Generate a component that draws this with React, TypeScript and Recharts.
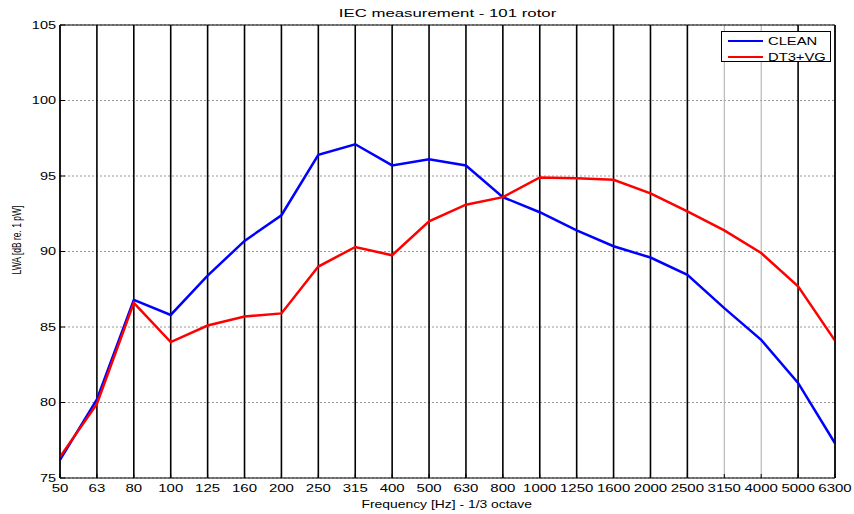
import { CartesianGrid, Line, LineChart, ReferenceLine, XAxis, YAxis } from "recharts";

const frequencies = ["50", "63", "80", "100", "125", "160", "200", "250", "315", "400", "500", "630", "800", "1000", "1250", "1600", "2000", "2500", "3150", "4000", "5000", "6300"];
const clean = [76.2, 80.2, 86.8, 85.8, 88.4, 90.7, 92.4, 96.4, 97.1, 95.7, 96.1, 95.7, 93.6, 92.6, 91.4, 90.35, 89.6, 88.45, 86.25, 84.15, 81.3, 77.3];
const dt3vg = [76.4, 79.9, 86.6, 84.0, 85.1, 85.7, 85.9, 89.0, 90.3, 89.75, 92.0, 93.1, 93.6, 94.9, 94.85, 94.75, 93.85, 92.65, 91.4, 89.9, 87.7, 84.1];
const yTicks = [75, 80, 85, 90, 95, 100, 105];
const lightGrid = ["3150", "4000"];
const series = [
  { key: "clean", name: "CLEAN", color: "#0000ff" },
  { key: "dt3vg", name: "DT3+VG", color: "#ff0000" }
];

const data = frequencies.map((f, i) => ({ freq: f, clean: clean[i], dt3vg: dt3vg[i] }));

const font = "'Liberation Sans', Arial, sans-serif";

// the source figure was stretched sideways, so text is widened with scaleX
function XTick({ x, y, payload }: any) {
  return (
    <g>
      <line x1={x} x2={x} y1={y} y2={y - 4} stroke="#000" />
      <text
        transform={`translate(${x},${y + 14}) scale(1.5,1)`}
        textAnchor="middle"
        fontSize={10}
        fontFamily={font}
        fill="#000"
      >
        {payload.value}
      </text>
    </g>
  );
}

function YTick({ x, y, payload }: any) {
  return (
    <g>
      <line x1={x} x2={x + 5} y1={y} y2={y} stroke="#000" />
      <text
        transform={`translate(${x - 4},${y + 3.5}) scale(1.45,1)`}
        textAnchor="end"
        fontSize={10}
        fontFamily={font}
        fill="#000"
      >
        {payload.value}
      </text>
    </g>
  );
}

function RightTick({ x, y }: any) {
  return <line x1={x - 5} x2={x} y1={y} y2={y} stroke="#000" />;
}

function LegendBox() {
  return (
    <div
      style={{
        position: "absolute",
        left: 721,
        top: 31,
        width: 110,
        height: 31,
        border: "1px solid #000",
        background: "#fff",
        boxSizing: "border-box",
        fontFamily: font,
        fontSize: 10.7
      }}
    >
      {series.map((s, i) => (
        <div key={s.key} style={{ position: "absolute", left: 6, top: 2 + i * 15.5, height: 14, display: "flex", alignItems: "center" }}>
          <span style={{ display: "inline-block", width: 35, height: 2, background: s.color }} />
          <span style={{ display: "inline-block", marginLeft: 5, transform: "scaleX(1.38)", transformOrigin: "left center" }}>{s.name}</span>
        </div>
      ))}
    </div>
  );
}

export default function App() {
  return (
    <div style={{ position: "absolute", left: 0, top: 0, width: 854, height: 514, background: "#fff" }}>
      <LineChart width={854} height={514} data={data} margin={{ top: 25, right: 0, bottom: 0, left: 0 }}>
        <CartesianGrid vertical={false} stroke="#999" strokeDasharray="2 2" />
        {frequencies.map((f) => (
          <ReferenceLine
            key={f}
            x={f}
            stroke={lightGrid.includes(f) ? "#aaa" : "#000"}
            strokeWidth={lightGrid.includes(f) ? 1 : 1.6}
          />
        ))}
        <ReferenceLine y={105} stroke="#000" />
        <XAxis
          dataKey="freq"
          interval={0}
          stroke="#000"
          tickLine={false}
          tickSize={0}
          tickMargin={0}
          height={36}
          tick={<XTick />}
        />
        <YAxis
          domain={[75, 105]}
          ticks={yTicks}
          width={60}
          stroke="#000"
          tickLine={false}
          tickSize={0}
          tickMargin={0}
          tick={<YTick />}
        />
        <YAxis
          yAxisId="r"
          orientation="right"
          domain={[75, 105]}
          ticks={yTicks}
          width={19}
          stroke="#000"
          tickLine={false}
          tickSize={0}
          tickMargin={0}
          tick={<RightTick />}
        />
        {series.map((s) => (
          <Line
            key={s.key}
            dataKey={s.key}
            name={s.name}
            stroke={s.color}
            strokeWidth={2.5}
            dot={false}
            isAnimationActive={false}
          />
        ))}
      </LineChart>
      <svg width={854} height={514} style={{ position: "absolute", left: 0, top: 0, pointerEvents: "none" }}>
        <text transform="translate(447.5,17.3) scale(1.6,1)" textAnchor="middle" fontSize={10.5} fontFamily={font} fill="#000">
          IEC measurement - 101 rotor
        </text>
        <text transform="translate(446.7,508.3) scale(1.3,1)" textAnchor="middle" fontSize={10.7} fontFamily={font} fill="#000">
          Frequency [Hz] - 1/3 octave
        </text>
        <text transform="translate(21,240) rotate(-90) scale(1,1.5)" textAnchor="middle" fontSize={8.5} fontFamily={font} fill="#000">
          LWA [dB re. 1 pW]
        </text>
      </svg>
      <LegendBox />
    </div>
  );
}
